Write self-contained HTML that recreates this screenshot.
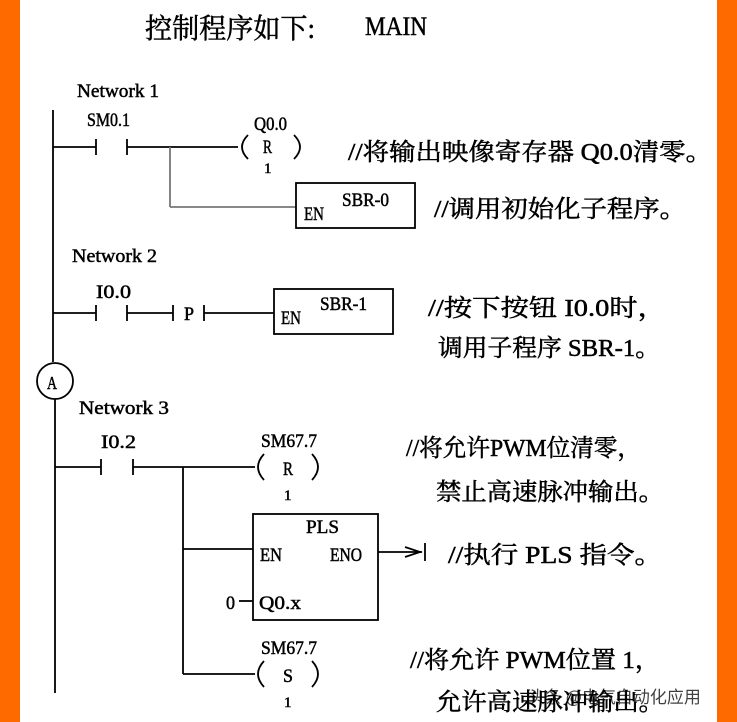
<!DOCTYPE html>
<html><head><meta charset="utf-8"><style>
html,body{margin:0;padding:0;background:#fff;}
svg{display:block;}
text{font-family:"Liberation Serif","Noto Serif CJK SC","Noto Sans CJK SC",serif;fill:#000;stroke:#000;stroke-width:0.5;}
</style></head><body>
<svg width="737" height="722" viewBox="0 0 737 722" xmlns="http://www.w3.org/2000/svg">
<rect x="0" y="0" width="20" height="722" fill="#ff6a00"/>
<rect x="717" y="0" width="20" height="722" fill="#ff6a00"/>
<g stroke="#000" stroke-width="1.8" fill="none">
<line x1="53" y1="110" x2="53" y2="362"/>
<circle cx="55" cy="381" r="18"/>
<line x1="55" y1="399" x2="55" y2="693"/>
<line x1="53" y1="147" x2="96" y2="147"/>
<line x1="96" y1="139" x2="96" y2="155"/>
<line x1="127" y1="139" x2="127" y2="155"/>
<line x1="127" y1="147" x2="238" y2="147"/>
<path d="M248 135 Q236 147 248 159"/>
<path d="M294 135 Q306 147 294 159"/>
<line x1="170" y1="147" x2="170" y2="207" stroke="#777"/>
<line x1="170" y1="207" x2="296" y2="207" stroke="#777"/>
<rect x="296" y="183" width="119" height="45"/>
<line x1="53" y1="313" x2="96" y2="313"/>
<line x1="96" y1="305" x2="96" y2="321"/>
<line x1="127" y1="305" x2="127" y2="321"/>
<line x1="127" y1="313" x2="173" y2="313"/>
<line x1="173" y1="305" x2="173" y2="321"/>
<line x1="204" y1="305" x2="204" y2="321"/>
<line x1="204" y1="313" x2="274" y2="313"/>
<rect x="274" y="289" width="119" height="45"/>
<line x1="55" y1="467" x2="101" y2="467"/>
<line x1="101" y1="459" x2="101" y2="475"/>
<line x1="133" y1="459" x2="133" y2="475"/>
<line x1="133" y1="467" x2="255" y2="467"/>
<path d="M264 454 Q252 467 264 480"/>
<path d="M312 454 Q324 467 312 480"/>
<line x1="183" y1="467" x2="183" y2="674"/>
<rect x="253" y="514" width="125" height="106"/>
<line x1="183" y1="549" x2="253" y2="549"/>
<line x1="378" y1="552" x2="422" y2="552"/>
<path d="M405 547 L420 552 L405 557"/>
<line x1="425" y1="543" x2="425" y2="561"/>
<line x1="239" y1="601" x2="253" y2="601"/>
<line x1="183" y1="674" x2="255" y2="674"/>
<path d="M264 661 Q252 674 264 687"/>
<path d="M312 661 Q324 674 312 687"/>
</g>
<text x="145" y="38" font-size="28" textLength="170" lengthAdjust="spacingAndGlyphs">控制程序如下:</text>
<text x="365" y="35" font-size="26" textLength="62" lengthAdjust="spacingAndGlyphs">MAIN</text>
<text x="47" y="389" font-size="18" textLength="10" lengthAdjust="spacingAndGlyphs">A</text>
<g font-size="19">
<text x="77" y="97" textLength="82" lengthAdjust="spacingAndGlyphs">Network 1</text>
<text x="87" y="126" textLength="43" lengthAdjust="spacingAndGlyphs">SM0.1</text>
<text x="254" y="130" textLength="33" lengthAdjust="spacingAndGlyphs">Q0.0</text>
<text x="263" y="153" textLength="9" lengthAdjust="spacingAndGlyphs">R</text>
<text x="264" y="173" font-size="15">1</text>
<text x="304" y="220" textLength="20" lengthAdjust="spacingAndGlyphs">EN</text>
<text x="342" y="206" textLength="47" lengthAdjust="spacingAndGlyphs">SBR-0</text>
<text x="72" y="262" textLength="85" lengthAdjust="spacingAndGlyphs">Network 2</text>
<text x="96" y="298" textLength="35" lengthAdjust="spacingAndGlyphs">I0.0</text>
<text x="184" y="320" textLength="10" lengthAdjust="spacingAndGlyphs">P</text>
<text x="281" y="324" textLength="20" lengthAdjust="spacingAndGlyphs">EN</text>
<text x="320" y="310" textLength="47" lengthAdjust="spacingAndGlyphs">SBR-1</text>
<text x="79" y="414" textLength="90" lengthAdjust="spacingAndGlyphs">Network 3</text>
<text x="101" y="448" textLength="35" lengthAdjust="spacingAndGlyphs">I0.2</text>
<text x="261" y="447" textLength="56" lengthAdjust="spacingAndGlyphs">SM67.7</text>
<text x="283" y="475" textLength="10" lengthAdjust="spacingAndGlyphs">R</text>
<text x="284" y="500" font-size="15">1</text>
<text x="306" y="533" textLength="33" lengthAdjust="spacingAndGlyphs">PLS</text>
<text x="260" y="561" textLength="22" lengthAdjust="spacingAndGlyphs">EN</text>
<text x="330" y="561" textLength="32" lengthAdjust="spacingAndGlyphs">ENO</text>
<text x="226" y="609" textLength="9" lengthAdjust="spacingAndGlyphs">0</text>
<text x="259" y="609" textLength="42" lengthAdjust="spacingAndGlyphs">Q0.x</text>
<text x="261" y="654" textLength="56" lengthAdjust="spacingAndGlyphs">SM67.7</text>
<text x="283" y="682" textLength="10" lengthAdjust="spacingAndGlyphs">S</text>
<text x="284" y="707" font-size="15">1</text>
</g>
<g font-size="24">
<text x="348" y="160" textLength="364" lengthAdjust="spacingAndGlyphs">//将输出映像寄存器 Q0.0清零。</text>
<text x="434" y="217" textLength="252" lengthAdjust="spacingAndGlyphs">//调用初始化子程序。</text>
<text x="428" y="316" textLength="238" lengthAdjust="spacingAndGlyphs">//按下按钮 I0.0时，</text>
<text x="438" y="356" textLength="222" lengthAdjust="spacingAndGlyphs">调用子程序 SBR-1。</text>
<text x="406" y="456" textLength="235" lengthAdjust="spacingAndGlyphs">//将允许PWM位清零，</text>
<text x="436" y="500" textLength="228" lengthAdjust="spacingAndGlyphs">禁止高速脉冲输出。</text>
<text x="448" y="563" textLength="214" lengthAdjust="spacingAndGlyphs">//执行 PLS 指令。</text>
<text x="410" y="668" textLength="250" lengthAdjust="spacingAndGlyphs">//将允许 PWM位置 1，</text>
<text x="436" y="710" textLength="228" lengthAdjust="spacingAndGlyphs">允许高速脉冲输出。</text>
</g>
<text x="528" y="703" font-size="17" fill="#666" style="font-family:'Noto Sans CJK SC',sans-serif;stroke:none" opacity="0.75">头条 @电气自动化应用</text>
</svg>
</body></html>
